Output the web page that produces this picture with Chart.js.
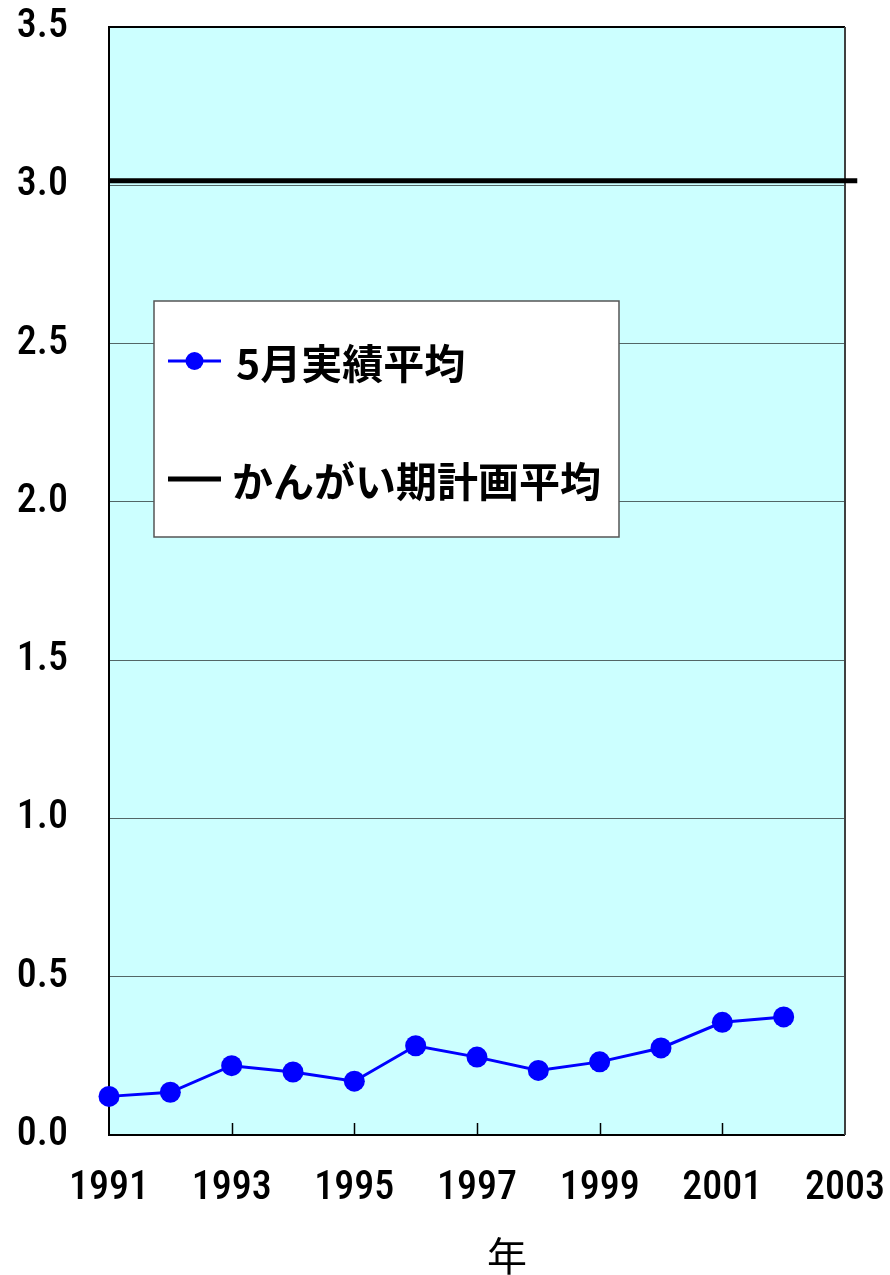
<!DOCTYPE html>
<html><head><meta charset="utf-8">
<script src="https://cdn.jsdelivr.net/npm/chart.js@4/dist/chart.umd.min.js"></script>
<style>html,body{margin:0;padding:0;background:#fff}#wrap{width:890px;height:1275px;position:relative}</style>
</head><body><div id="wrap"><canvas id="c" width="890" height="1275"></canvas></div>
<script>
const years = [1991,1992,1993,1994,1995,1996,1997,1998,1999,2000,2001,2002];
const may5Actual = [0.122,0.135,0.219,0.199,0.170,0.282,0.246,0.204,0.231,0.275,0.356,0.373];
const planYears = [1991, 2003.2];
const planAverage = [3.014, 3.014];
const yTicks = [0,0.5,1.0,1.5,2.0,2.5,3.0,3.5];
const xTicks = [1991,1993,1995,1997,1999,2001,2003];
const seriesLabels = ['5月実績平均','かんがい期計画平均'];
const xTitle = '年';

const numFont = '"Roboto Condensed", "Liberation Sans", Arial, sans-serif';
const cjkFont = '"Noto Sans CJK JP", sans-serif';

const noPad = s => { s.paddingTop = 0; s.paddingBottom = 0; s.paddingLeft = 0; s.paddingRight = 0; };

const decor = {
  id: 'decor',
  beforeDraw(chart) {
    const a = chart.chartArea, ctx = chart.ctx;
    ctx.save();
    ctx.fillStyle = '#CCFFFF';
    ctx.fillRect(a.left, a.top, a.right - a.left, a.bottom - a.top);
    ctx.restore();
  },
  beforeDatasetsDraw(chart) {
    const a = chart.chartArea, ctx = chart.ctx, xs = chart.scales.x;
    ctx.save();
    ctx.lineWidth = 2;
    ctx.strokeStyle = '#000';
    ctx.beginPath();
    ctx.moveTo(a.right, a.top); ctx.lineTo(a.left, a.top); ctx.lineTo(a.left, a.bottom); ctx.lineTo(a.right, a.bottom);
    ctx.stroke();
    ctx.strokeStyle = '#404040';
    ctx.beginPath(); ctx.moveTo(a.right, a.top); ctx.lineTo(a.right, a.bottom); ctx.stroke();
    ctx.strokeStyle = '#000';
    ctx.lineWidth = 1.5;
    xTicks.forEach(v => {
      if (v === xs.min || v === xs.max) return;
      const px = Math.round(xs.getPixelForValue(v)) + 0.5;
      ctx.beginPath(); ctx.moveTo(px, a.bottom); ctx.lineTo(px, a.bottom - 12); ctx.stroke();
    });
    ctx.restore();
  },
  afterDraw(chart) {
    const a = chart.chartArea, ctx = chart.ctx;
    const ds = chart.data.datasets;
    ctx.save();
    const lx = a.left + 45, ly = a.top + 274, lw = 465, lh = 236;
    ctx.fillStyle = '#fff';
    ctx.fillRect(lx, ly, lw, lh);
    ctx.strokeStyle = '#555';
    ctx.lineWidth = 1.5;
    ctx.strokeRect(lx, ly, lw, lh);
    const r1 = ly + 60;
    ctx.strokeStyle = ds[0].borderColor; ctx.lineWidth = 3;
    ctx.beginPath(); ctx.moveTo(lx + 14, r1); ctx.lineTo(lx + 67, r1); ctx.stroke();
    ctx.fillStyle = ds[0].backgroundColor;
    ctx.beginPath(); ctx.arc(lx + 40.5, r1, 9, 0, Math.PI * 2); ctx.fill();
    ctx.fillStyle = '#000';
    ctx.font = 'bold 41px ' + cjkFont;
    ctx.textBaseline = 'middle';
    ctx.textAlign = 'left';
    ctx.fillText(ds[0].label, lx + 82, r1 + 2);
    const r2 = ly + 178;
    ctx.strokeStyle = ds[1].borderColor; ctx.lineWidth = 5;
    ctx.beginPath(); ctx.moveTo(lx + 14, r2); ctx.lineTo(lx + 67, r2); ctx.stroke();
    ctx.fillText(ds[1].label, lx + 78, r2 + 2);
    ctx.font = '40px ' + cjkFont;
    ctx.textAlign = 'center';
    ctx.fillText(xTitle, a.left + 398, 1256);
    ctx.restore();
  }
};

new Chart(document.getElementById('c'), {
  type: 'line',
  data: {
    datasets: [
      {
        label: seriesLabels[0],
        data: years.map((x, i) => ({x: x, y: may5Actual[i]})),
        borderColor: '#0000FF',
        backgroundColor: '#0000FF',
        borderWidth: 3,
        pointRadius: 10.5,
        pointBorderWidth: 0,
        pointHoverRadius: 10.5,
        tension: 0,
        clip: false
      },
      {
        label: seriesLabels[1],
        data: planYears.map((x, i) => ({x: x, y: planAverage[i]})),
        borderColor: '#000000',
        backgroundColor: '#000000',
        borderWidth: 5,
        pointRadius: 0,
        tension: 0,
        clip: false
      }
    ]
  },
  options: {
    responsive: false,
    animation: false,
    devicePixelRatio: 1,
    layout: {padding: {top: 27, right: 45, left: 0, bottom: 0}},
    plugins: {legend: {display: false}, tooltip: {enabled: false}},
    scales: {
      x: {
        type: 'linear',
        min: 1991, max: 2003,
        afterBuildTicks: s => { s.ticks = xTicks.map(v => ({value: v})); },
        afterFit: s => { s.height = 140; noPad(s); },
        grid: {display: false, drawTicks: false},
        border: {display: false},
        ticks: {
          color: '#000',
          font: {family: numFont, size: 40, weight: '500'},
          padding: 30,
          maxRotation: 0,
          autoSkip: false,
          callback: v => String(v)
        }
      },
      y: {
        min: 0, max: 3.5,
        afterBuildTicks: s => { s.ticks = yTicks.map(v => ({value: v})); },
        afterFit: s => { s.width = 109; noPad(s); },
        grid: {color: 'rgba(0,0,0,0.6)', lineWidth: 1, drawTicks: false},
        border: {display: false},
        ticks: {
          color: '#000',
          font: {family: numFont, size: 40, weight: '500'},
          padding: 41,
          autoSkip: false,
          callback: v => Number(v).toFixed(1)
        }
      }
    }
  },
  plugins: [decor]
});
</script>
</body></html>
